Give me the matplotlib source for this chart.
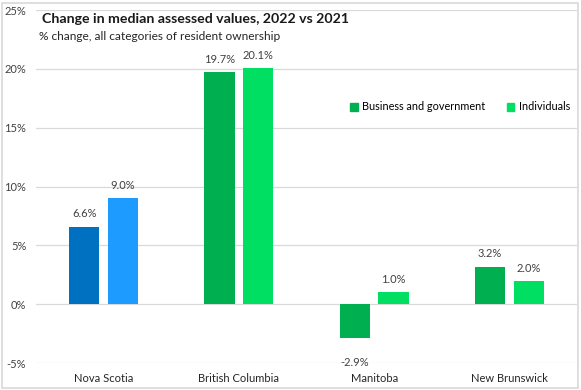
import matplotlib
matplotlib.use("Agg")
import matplotlib.pyplot as plt
from matplotlib.patches import Rectangle, Patch
import numpy as np

plt.rcParams['font.family'] = ['Lato', 'DejaVu Sans']

provinces = ["Nova Scotia", "British Columbia", "Manitoba", "New Brunswick"]
business = [6.6, 19.7, -2.9, 3.2]
individuals = [9.0, 20.1, 1.0, 2.0]
series_names = ["Business and government", "Individuals"]
yticks = [-5, 0, 5, 10, 15, 20, 25]

col_bus = ["#0070C0", "#00B050", "#00B050", "#00B050"]
col_ind = ["#1E9BFF", "#00DF62", "#00DF62", "#00DF62"]

W, H = 581, 390
fig = plt.figure(figsize=(W/100, H/100), dpi=100)
fig.patches.append(Rectangle((2/W, 2/H), 576/W, 385/H, transform=fig.transFigure,
                             fill=False, edgecolor="#D9D9D9", lw=1.2))

ax_l, ax_r = 36, 577
y_top, y_bot = 10, 363
ax = fig.add_axes([ax_l/W, 1 - y_bot/H, (ax_r-ax_l)/W, (y_bot-y_top)/H])

x = np.arange(len(provinces))
bw = 0.225
off = 0.143
b1 = ax.bar(x - off, business, bw, color=col_bus, zorder=3)
b2 = ax.bar(x + off, individuals, bw, color=col_ind, zorder=3)

for bars, vals in ((b1, business), (b2, individuals)):
    for r, v in zip(bars, vals):
        xc = r.get_x() + r.get_width()/2
        if v >= 0:
            ax.text(xc, v + 0.6, f"{v:.1f}%", ha="center", va="bottom", fontsize=8, color="#404040")
        else:
            ax.text(xc, v - 1.6, f"{v:.1f}%", ha="center", va="top", fontsize=8, color="#404040")

ax.set_xlim(-0.5, len(provinces) - 0.5)
ax.set_ylim(-5, 25)
ax.set_yticks(yticks)
ax.set_yticklabels([f"{t}%" for t in yticks], fontsize=8, color="#404040")
ax.set_xticks(x)
ax.set_xticklabels(provinces, fontsize=8, color="#262626")
ax.tick_params(axis="x", length=0, pad=7)
ax.tick_params(axis="y", length=0, pad=7)
ax.yaxis.grid(True, color="#D9D9D9", lw=0.9, zorder=0)
for s in ax.spines.values():
    s.set_visible(False)

fig.text(42/W, 1 - 19/H, "Change in median assessed values, 2022 vs 2021", fontsize=10.2,
         fontweight="bold", color="#1a1a1a", va="center")
fig.text(39/W, 1 - 37/H, "% change, all categories of resident ownership", fontsize=8.6,
         color="#262626", va="center")

handles = [Patch(color="#00B050"), Patch(color="#00DF62")]
fig.legend(handles, series_names, loc="center", bbox_to_anchor=(460/W, 1 - 107/H),
           ncol=2, frameon=False, fontsize=7.8, handlelength=0.7, handleheight=0.7,
           handletextpad=0.4, columnspacing=2.0)

fig.savefig("out.png", dpi=100)
